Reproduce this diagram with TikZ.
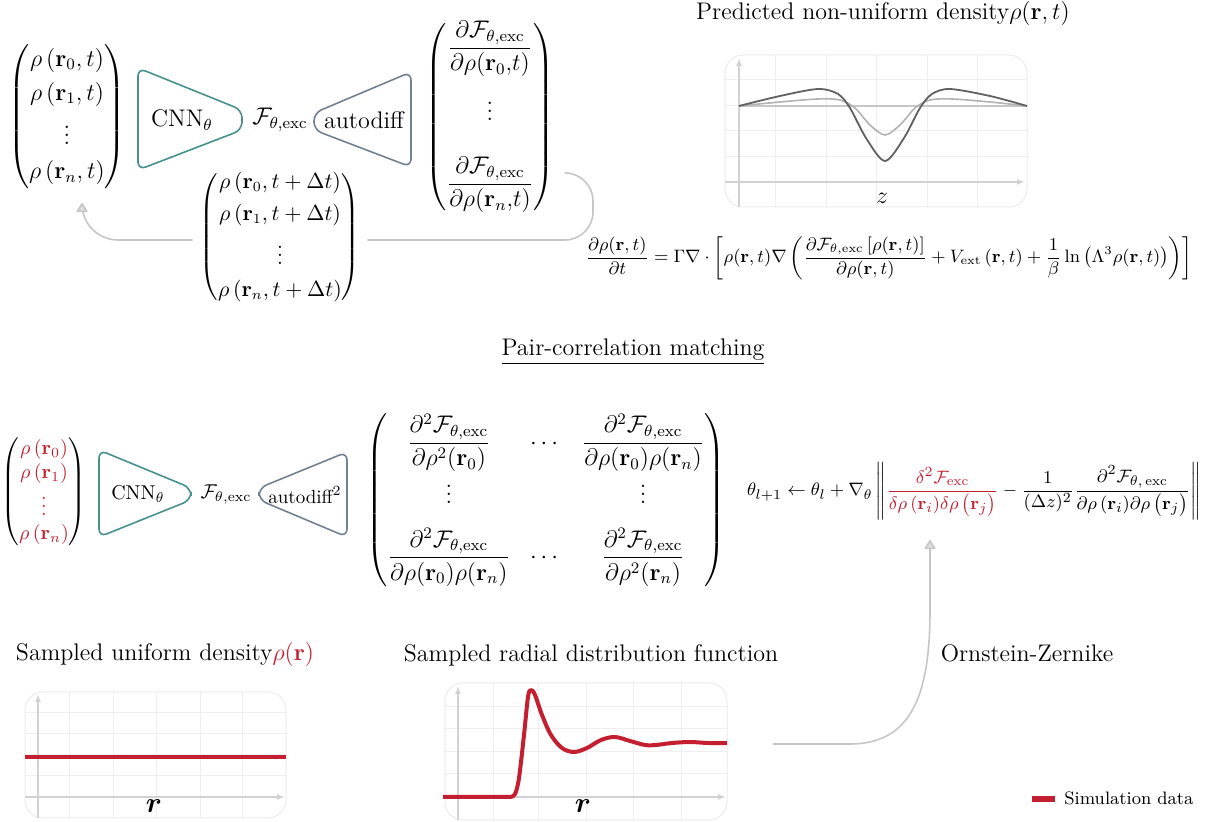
\documentclass[tikz,border=0pt]{standalone}
\usepackage{amsmath,amssymb}
\usetikzlibrary{arrows.meta}

\definecolor{cnnteal}{HTML}{46918E}
\definecolor{adslate}{HTML}{718192}
\definecolor{simred}{HTML}{C41F30}
\definecolor{flowgray}{HTML}{C6C6C6}
\definecolor{gridgray}{HTML}{EFEFEF}
\definecolor{axisgray}{HTML}{D2D2D2}

\begin{document}
\begin{tikzpicture}[x=0.5pt,y=-0.5pt,
    cnnbox/.style={draw=cnnteal, line width=0.8pt, rounded corners=4pt},
    adbox/.style={draw=adslate, line width=0.8pt, rounded corners=4pt},
    flow/.style={draw=flowgray, line width=0.8pt},
    flowtip/.style={flow, -{Triangle[round, length=5pt, width=6pt, fill=flowgray!60]}},
    frame/.style={draw=black!8, line width=0.5pt, rounded corners=9pt},
    gridline/.style={draw=gridgray, line width=0.5pt},
    axis/.style={draw=axisgray, line width=0.8pt, -{Latex[length=4pt,width=3pt]}},
    simline/.style={draw=simred, line width=2pt},
    lbl/.style={font=\large, inner sep=0pt}]
\useasboundingbox (0,0) rectangle (1212,822);

% --- time evolution ---
\node[font=\large] (rhot) at (67,117) {$\begin{pmatrix}
    \rho\left(\mathbf{r}_0,t\right)\\[3pt] \rho\left(\mathbf{r}_1,t\right)\\[3pt] \vdots\\[3pt] \rho\left(\mathbf{r}_n,t\right)
  \end{pmatrix}$};
\draw[cnnbox] (138,68) -- (242,110) -- (242,130) -- (138,170) -- cycle;
\node[font=\large] (cnnA) at (182,120) {CNN$_\theta$};
\node[font=\large] (fexcA) at (280,120) {$\mathcal{F}_{\theta,\text{exc}}$};
\draw[adbox] (314,113) -- (411,72) -- (411,167) -- (314,130) -- cycle;
\node[font=\large] (adA) at (364,120) {autodiff};
\node[font=\large] (grad) at (490,117) {$\left(\begin{matrix}
    \dfrac{\partial\mathcal{F}_{\theta,\text{exc}}}{\partial\rho(\mathbf{r}_0{,}t)}\\[14pt]
    \vdots\\[14pt]
    \dfrac{\partial\mathcal{F}_{\theta,\text{exc}}}{\partial\rho(\mathbf{r}_n{,}t)}
  \end{matrix}\right)$};
\node[font=\fontsize{10.5}{13}\selectfont] (nextrho) at (280,237) {$\begin{pmatrix}
    \rho\left(\mathbf{r}_0,t+\Delta t\right)\\[3pt] \rho\left(\mathbf{r}_1,t+\Delta t\right)\\[3pt] \vdots\\[3pt] \rho\left(\mathbf{r}_n,t+\Delta t\right)
  \end{pmatrix}$};
\coordinate (bend) at (593,240);
\coordinate (tipL) at (82,203);
\draw[flow, rounded corners=14] ([shift={(6,56)}]grad.east) -| (bend) -- (nextrho.east |- bend);
\draw[flowtip, rounded corners=18] (nextrho.west |- bend) -| (tipL);

% predicted density plot
\node[lbl] (predtitle) at (883,14) {Predicted non-uniform density$\rho(\mathbf{r},t)$};
\begin{scope}
  \clip[rounded corners=9pt] (725,55) rectangle (1027,207);
  \foreach \gx in {775,826,876,927,977} \draw[gridline] (\gx,55) -- (\gx,207);
  \foreach \gy in {80,106,131,157} \draw[gridline] (725,\gy) -- (1027,\gy);
\end{scope}
\draw[frame] (725,55) rectangle (1027,207);
\draw[axis] (739,207) -- (739,58);
\draw[axis] (725,182) -- (1025,182);
\draw[draw=black!22, line width=1pt] (739,106) -- (1027,106);
\draw[draw=black!30, line width=0.8pt] plot[smooth] coordinates {(739,106) (780,102) (818,99) (840,100) (855,108) (870,125) (885,135) (900,125) (915,108) (930,100) (952,99) (990,102) (1027,106)};
\draw[draw=black!62, line width=0.9pt] plot[smooth] coordinates {(739,106) (780,96) (818,89) (838,94) (850,108) (866,138) (885,161) (904,138) (920,108) (932,94) (950,89) (990,96) (1027,106)};
\node[font=\large] (zlab) at (882,198) {$z$};

\node[font=\small] (ddft) at (889,258) {$\dfrac{\partial\rho(\mathbf{r},t)}{\partial t}=\Gamma\nabla\cdot\left[\rho(\mathbf{r},t)\nabla\left(\dfrac{\partial\mathcal{F}_{\theta,\text{exc}}\left[\rho(\mathbf{r},t)\right]}{\partial\rho(\mathbf{r},t)}+V_{\text{ext}}\left(\mathbf{r},t\right)+\dfrac{1}{\beta}\ln\left(\Lambda^3\rho(\mathbf{r},t)\right)\right)\right]$};

% --- pair-correlation matching ---
\node[lbl] (pctitle) at (633,352) {\underline{Pair-correlation matching}};

\node (rhou) at (44,492) {$\begin{pmatrix}
    \color{simred}\rho\left(\mathbf{r}_0\right)\\ \color{simred}\rho\left(\mathbf{r}_1\right)\\ \color{simred}\vdots\\ \color{simred}\rho\left(\mathbf{r}_n\right)
  \end{pmatrix}$};
\draw[cnnbox] (99,450) -- (191,488) -- (191,500) -- (99,537) -- cycle;
\node (cnnB) at (138,494) {CNN$_\theta$};
\node (fexcB) at (226,495) {$\mathcal{F}_{\theta,\text{exc}}$};
\draw[adbox] (259,488) -- (347,452) -- (347,537) -- (259,500) -- cycle;
\node[font=\fontsize{9.5}{12}\selectfont] (adB) at (305,495) {autodiff$^2$};
\node[font=\large] (hess) at (546,500) {$\left(\begin{matrix}
    \dfrac{\partial^2\mathcal{F}_{\theta,\text{exc}}}{\partial\rho^2(\mathbf{r}_0)} & \cdots & \dfrac{\partial^2\mathcal{F}_{\theta,\text{exc}}}{\partial\rho(\mathbf{r}_0)\rho(\mathbf{r}_n)}\\[8pt]
    \vdots & & \vdots\\[8pt]
    \dfrac{\partial^2\mathcal{F}_{\theta,\text{exc}}}{\partial\rho(\mathbf{r}_0)\rho(\mathbf{r}_n)} & \cdots & \dfrac{\partial^2\mathcal{F}_{\theta,\text{exc}}}{\partial\rho^2(\mathbf{r}_n)}
  \end{matrix}\right)$};
\node[font=\fontsize{9.5}{12}\selectfont] (update) at (974,491) {$\theta_{l+1}\leftarrow\theta_l+\nabla_\theta\left\|\color{simred}\dfrac{\delta^2\mathcal{F}_{\text{exc}}}{\delta\rho\left(\mathbf{r}_i\right)\!\delta\rho\left(\mathbf{r}_j\right)}\color{black}-\dfrac{1}{(\Delta z)^2}\dfrac{\partial^2\mathcal{F}_{\theta,\,\text{exc}}}{\partial\rho\left(\mathbf{r}_i\right)\!\partial\rho\left(\mathbf{r}_j\right)}\right\|$};

% uniform density plot
\node[lbl] (unititle) at (165,655) {Sampled uniform density\textcolor{simred}{$\rho(\mathbf{r})$}};
\begin{scope}
  \clip[rounded corners=9pt] (25,692) rectangle (286,818);
  \foreach \gx in {69,113,156,200,242} \draw[gridline] (\gx,692) -- (\gx,818);
  \foreach \gy in {713,734,755,776} \draw[gridline] (25,\gy) -- (286,\gy);
\end{scope}
\draw[frame] (25,692) rectangle (286,818);
\draw[axis] (38,818) -- (38,694);
\draw[axis] (25,797) -- (285,797);
\draw[simline] (25,757) -- (286,757);
\node[font=\Large] (rlabA) at (154,806) {$\boldsymbol{r}$};

% radial distribution plot
\node[lbl] (rdftitle) at (591,655) {Sampled radial distribution function};
\begin{scope}
  \clip[rounded corners=9pt] (445,683) rectangle (727,820);
  \foreach \gx in {493,538,586,633,681} \draw[gridline] (\gx,683) -- (\gx,820);
  \foreach \gy in {707,729,752,774} \draw[gridline] (445,\gy) -- (727,\gy);
\end{scope}
\draw[frame] (445,683) rectangle (727,820);
\draw[axis] (458,820) -- (458,686);
\draw[axis] (445,797) -- (726,797);
\draw[simline, line join=round] (443,797) -- (510,797) plot[smooth, tension=0.55] coordinates {(510,797) (515,794) (519,778) (524,735) (528,697) (531,690) (535,695) (542,715) (551,735) (562,748) (574,752) (587,748) (601,740) (615,737) (630,741) (645,745) (656,745) (672,743) (690,742) (708,743) (727,743)};
\node[font=\Large] (rlabB) at (583,806) {$\boldsymbol{r}$};

% Ornstein-Zernike link
\node[lbl] (oztitle) at (1027,653) {Ornstein-Zernike};
\coordinate (rdfout) at (773,744);
\coordinate (normtip) at (930,540);
\draw[flowtip] (rdfout) -- (850,744) .. controls (914,744) and (930,690) .. (930,610) -- (normtip);

% legend
\draw[simred, line width=3pt] (1032,799) -- (1055,799);
\node[font=\small, anchor=west, inner sep=0pt] (legend) at (1064,798) {Simulation data};
\end{tikzpicture}
\end{document}
